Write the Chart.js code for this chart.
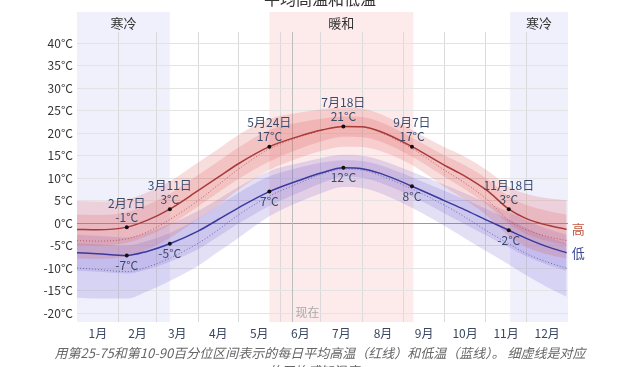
<!DOCTYPE html>
<html>
<head>
<meta charset="utf-8">
<script src="https://cdn.jsdelivr.net/npm/chart.js@4.4.1/dist/chart.umd.min.js"></script>
<style>
  html, body { margin: 0; padding: 0; background: #fff; overflow: hidden; }
  #wrap { position: relative; width: 640px; height: 367px; }
  #title { position: absolute; left: 0; top: -10px; width: 640px; text-align: center;
           font: 16px "Noto Sans CJK SC"; line-height: 16px; color: #333; }
  #caption { position: absolute; left: 0; top: 344px; width: 640px; text-align: center;
             font: italic 13px "Noto Sans CJK SC"; line-height: 18px; color: #666; }
  canvas { position: absolute; left: 0; top: 0; }
</style>
</head>
<body>
<div id="wrap">
  <canvas id="tempChart" width="640" height="367"></canvas>
  <div id="title">平均高温和低温</div>
  <div id="caption">用第25-75和第10-90百分位区间表示的每日平均高温（红线）和低温（蓝线）。 细虚线是对应<br>的平均感知温度。</div>
</div>
<script>
// day of year for each sample
const days = [0, 15, 37, 52, 69, 90, 105, 120, 143, 166, 182, 198, 212, 226, 249, 273, 288, 305, 321, 334, 350, 364];

// average daily high / low (°C)
const highAvg = [-1.4, -1.5, -0.9, 0.6, 3.1, 7.2, 10.2, 13.2, 17.0, 19.4, 20.7, 21.5, 21.4, 20.3, 17.0, 12.9, 10.5, 7.2, 3.1, 1.0, -0.5, -1.4];
const lowAvg  = [-6.6, -6.8, -7.2, -6.3, -4.6, -1.8, 0.8, 3.4, 7.0, 9.6, 11.2, 12.3, 12.1, 11.0, 8.2, 5.0, 3.0, 0.6, -1.6, -3.4, -5.3, -6.6];

// perceived temperature (thin dotted)
const highFeel = [-3.9, -4.0, -3.5, -2.0, 0.8, 5.0, 8.5, 12.0, 16.5, 19.2, 20.6, 21.5, 21.4, 20.1, 16.6, 11.8, 9.0, 5.2, 0.6, -1.5, -3.0, -3.9];
const lowFeel  = [-10.0, -10.3, -10.8, -9.8, -7.8, -4.5, -1.5, 1.8, 6.0, 9.0, 10.9, 12.0, 11.8, 10.5, 7.6, 4.0, 1.4, -1.8, -4.6, -6.8, -8.7, -10.0];

// percentile bands
const highP90 = [4.9, 4.8, 5.3, 6.8, 9.3, 13.5, 16.5, 19.6, 23.2, 24.6, 25.3, 25.7, 25.5, 24.2, 20.7, 16.9, 14.8, 11.7, 8.1, 6.5, 5.5, 5.1];
const highP75 = [1.9, 1.8, 2.4, 4.0, 6.5, 10.7, 13.7, 16.8, 20.7, 22.4, 23.2, 23.7, 23.6, 22.4, 19.0, 15.1, 12.9, 9.8, 5.9, 4.0, 2.7, 1.9];
const highP25 = [-4.9, -5.0, -4.4, -2.9, -0.4, 3.7, 6.8, 9.8, 13.7, 16.6, 18.2, 19.2, 19.1, 18.1, 14.8, 10.3, 7.6, 4.1, -0.2, -2.4, -4.0, -4.9];
const highP10 = [-7.9, -8.0, -7.4, -5.9, -3.3, 0.9, 3.9, 7.4, 11.8, 14.6, 16.1, 17.0, 16.9, 16.0, 12.9, 8.1, 5.3, 1.6, -2.9, -5.3, -7.0, -7.9];
const lowP90 = [-2.6, -2.8, -3.2, -2.1, -0.2, 2.7, 5.3, 8.0, 11.6, 13.4, 14.5, 15.2, 15.0, 14.0, 11.4, 8.5, 6.7, 4.5, 2.4, 0.6, -1.3, -2.6];
const lowP75 = [-4.5, -4.7, -5.0, -4.0, -2.2, 1.0, 3.9, 6.7, 10.4, 12.4, 13.5, 14.0, 13.8, 12.8, 10.2, 7.2, 5.3, 3.0, 0.8, -1.1, -3.1, -4.5];
const lowP25 = [-10.6, -10.8, -11.2, -10.3, -8.6, -5.8, -3.0, -0.1, 3.8, 6.9, 8.9, 10.3, 10.1, 8.9, 5.9, 2.2, -0.2, -2.9, -5.4, -7.4, -9.3, -10.6];
const lowP10 = [-16.6, -16.8, -16.8, -15.2, -12.9, -9.5, -6.4, -3.3, 1.5, 4.8, 6.7, 8.0, 7.8, 6.6, 3.4, -0.6, -3.3, -6.4, -9.2, -11.6, -14.3, -16.4];

// axes
const monthStarts = [0, 31, 59, 90, 120, 151, 181, 212, 243, 273, 304, 334, 365];
const monthMids = [15.5, 45, 74.5, 105, 135.5, 166, 196.5, 227.5, 258, 288.5, 319, 349.5];
const monthLabels = ['1月', '2月', '3月', '4月', '5月', '6月', '7月', '8月', '9月', '10月', '11月', '12月'];
const yTicks = [-20, -15, -10, -5, 0, 5, 10, 15, 20, 25, 30, 35, 40];

// seasons and callouts
const seasonStart = [0, 143, 322];
const seasonEnd = [69, 250, 365];
const seasonNames = ['寒冷', '暖和', '寒冷'];
const nowDay = 160;
const calloutDays = [37, 69, 143, 198, 249, 321];
const calloutDates = ['2月7日', '3月11日', '5月24日', '7月18日', '9月7日', '11月18日'];
const calloutHigh = ['-1°C', '3°C', '17°C', '21°C', '17°C', '3°C'];
const calloutLow = ['-7°C', '-5°C', '7°C', '12°C', '8°C', '-2°C'];

const pts = (arr) => days.map((d, i) => ({ x: d, y: arr[i] }));
const FONT = '"Noto Sans CJK SC", "Noto Sans", sans-serif';

const band = (data, color, fillTo) => ({
  data: pts(data), borderWidth: 0, pointRadius: 0, backgroundColor: color,
  fill: fillTo === undefined ? false : fillTo, cubicInterpolationMode: 'monotone'
});

const decorations = {
  id: 'decorations',
  beforeDraw(chart) {
    const { ctx, chartArea, scales } = chart;
    const xs = scales.x;
    ctx.save();
    seasonStart.forEach((s, i) => {
      const x1 = xs.getPixelForValue(s), x2 = xs.getPixelForValue(seasonEnd[i]);
      ctx.fillStyle = seasonNames[i] === '暖和' ? 'rgba(250,200,200,0.36)' : 'rgba(205,205,248,0.3)';
      ctx.fillRect(x1, chartArea.top - 20, x2 - x1, chartArea.bottom - chartArea.top + 20);
      ctx.fillStyle = '#333';
      ctx.font = '13px ' + FONT;
      ctx.textAlign = 'center';
      ctx.textBaseline = 'middle';
      ctx.fillText(seasonNames[i], (x1 + x2) / 2, chartArea.top - 9);
    });
    ctx.restore();
  },
  beforeDatasetsDraw(chart) {
    const { ctx, chartArea, scales } = chart;
    const x = Math.round(scales.x.getPixelForValue(nowDay)) + 0.5;
    ctx.save();
    ctx.strokeStyle = '#bdbdbd';
    ctx.lineWidth = 1;
    ctx.beginPath();
    ctx.moveTo(x, chartArea.top);
    ctx.lineTo(x, chartArea.bottom);
    ctx.stroke();
    ctx.fillStyle = '#aaa';
    ctx.font = '12px ' + FONT;
    ctx.textAlign = 'left';
    ctx.textBaseline = 'middle';
    ctx.fillText('现在', x + 3, chartArea.bottom - 10);
    ctx.restore();
  },
  afterDatasetsDraw(chart) {
    const { ctx } = chart;
    const hi = chart.getDatasetMeta(0).data;
    const lo = chart.getDatasetMeta(1).data;
    ctx.save();
    ctx.font = '12px ' + FONT;
    ctx.textAlign = 'center';
    ctx.textBaseline = 'middle';
    ctx.fillStyle = '#3a4a6c';
    calloutDays.forEach((d, i) => {
      const idx = days.indexOf(d);
      const ph = hi[idx], pl = lo[idx];
      ctx.fillText(calloutDates[i], ph.x, ph.y - 24);
      ctx.fillText(calloutHigh[i], ph.x, ph.y - 10);
      ctx.fillText(calloutLow[i], pl.x, pl.y + 10);
    });
    const lastH = hi[hi.length - 1], lastL = lo[lo.length - 1];
    ctx.font = '13px ' + FONT;
    ctx.textAlign = 'left';
    ctx.fillStyle = '#c4553e';
    ctx.fillText('高', lastH.x + 5, lastH.y);
    ctx.fillStyle = '#3f4899';
    ctx.fillText('低', lastL.x + 5, lastL.y);
    ctx.restore();
  }
};

const dotRadius = (ctx) => calloutDays.includes(days[ctx.dataIndex]) ? 2 : 0;

new Chart(document.getElementById('tempChart').getContext('2d'), {
  type: 'line',
  data: {
    datasets: [
      { data: pts(highAvg), borderColor: '#a83a3a', borderWidth: 1.5, pointRadius: dotRadius,
        pointBackgroundColor: '#111', pointBorderWidth: 0, fill: false, cubicInterpolationMode: 'monotone' },
      { data: pts(lowAvg), borderColor: '#3a3a9e', borderWidth: 1.5, pointRadius: dotRadius,
        pointBackgroundColor: '#111', pointBorderWidth: 0, fill: false, cubicInterpolationMode: 'monotone' },
      { data: pts(highFeel), borderColor: 'rgba(175,70,70,0.75)', borderWidth: 1, borderDash: [1, 2],
        pointRadius: 0, fill: false, cubicInterpolationMode: 'monotone' },
      { data: pts(lowFeel), borderColor: 'rgba(80,80,170,0.75)', borderWidth: 1, borderDash: [1, 2],
        pointRadius: 0, fill: false, cubicInterpolationMode: 'monotone' },
      band(highP90, 'rgba(220,85,85,0.2)', 5),
      band(highP10, 'rgba(0,0,0,0)'),
      band(highP75, 'rgba(220,85,85,0.2)', 7),
      band(highP25, 'rgba(0,0,0,0)'),
      band(lowP90, 'rgba(115,95,205,0.2)', 9),
      band(lowP10, 'rgba(0,0,0,0)'),
      band(lowP75, 'rgba(115,95,205,0.2)', 11),
      band(lowP25, 'rgba(0,0,0,0)')
    ]
  },
  options: {
    responsive: false,
    animation: false,
    layout: { padding: { top: 32, right: 72, bottom: 25, left: 0 } },
    scales: {
      x: {
        type: 'linear', min: 0, max: 365, position: 'bottom',
        afterBuildTicks: (s) => { s.ticks = monthStarts.map((v) => ({ value: v })); },
        ticks: { display: false },
        grid: {
          drawTicks: false,
          color: (c) => (c.tick && (c.tick.value === 0 || c.tick.value === 365)) ? 'rgba(0,0,0,0)' : '#dadada'
        },
        border: { display: false },
        afterFit: (s) => { s.height = 0; }
      },
      xm: {
        type: 'linear', min: 0, max: 365, position: 'bottom',
        afterBuildTicks: (s) => { s.ticks = monthMids.map((v) => ({ value: v })); },
        ticks: {
          callback: (v, i) => monthLabels[i], autoSkip: false, maxRotation: 0, padding: 4,
          color: '#3a4660', font: { family: FONT, size: 12 }
        },
        grid: { display: false, drawTicks: false },
        border: { display: false },
        afterFit: (s) => { s.height = 20; }
      },
      y: {
        min: -22, max: 42.5,
        afterBuildTicks: (s) => { s.ticks = yTicks.map((v) => ({ value: v })); },
        ticks: { callback: (v) => v + '°C', padding: 4, color: '#333', font: { family: FONT, size: 12 } },
        grid: { drawTicks: false, color: (c) => (c.tick && c.tick.value === 0) ? '#9a9a9a' : '#e3e3e3' },
        border: { display: false },
        afterFit: (s) => { s.width = 77; }
      }
    },
    plugins: {
      legend: { display: false },
      tooltip: { enabled: false }
    }
  },
  plugins: [decorations]
});
</script>
</body>
</html>
